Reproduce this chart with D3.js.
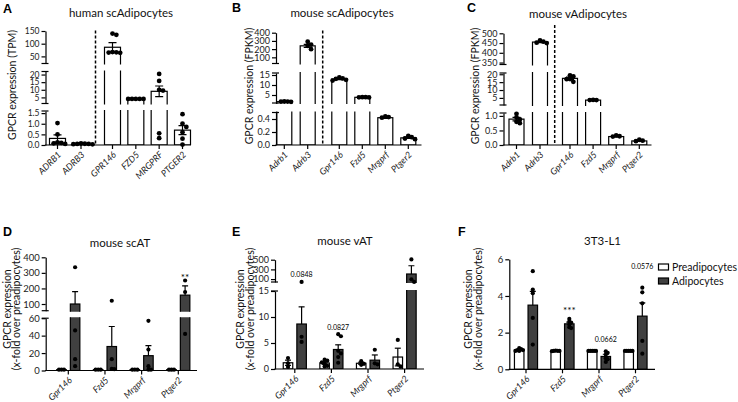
<!DOCTYPE html>
<html>
<head>
<meta charset="utf-8">
<script src="https://cdn.jsdelivr.net/npm/d3@7"></script>
<style>
  body { margin: 0; background: #fff; }
  svg { display: block; }
</style>
</head>
<body>
<div id="wrapper"></div>
<script>

// ---------- data ----------

// A: human scAdipocytes (TPM)
const genesA = ["ADRB1", "ADRB3", "GPR146", "FZD5", "MRGPRF", "PTGER2"];
const meanA = [0.31, 0.05, 86, 4.0, 9.0, 0.7];
const semA = [0.17, 0.01, 18, 0.05, 3.5, 0.21];
const dotsA = [
    [1.03, 0.5, 0.12, 0.1, 0.08, 0.05],
    [0.07, 0.06, 0.05, 0.05, 0.04, 0.03],
    [140, 135, 66, 65, 67, 64],
    [4.0, 4.0, 4.0, 4.0, 4.0],
    [20.4, 15.8, 10, 9.5, 0.55, 0.32],
    [1.45, 1.0, 0.85, 0.6, 0.3, 0.02]
];
const domainsA = [[0, 1.6], [1, 22], [22, 150]];
const ticksA = [[0, 0.5, 1, 1.5], [5, 10, 15, 20], [50, 100, 150]];

// B: mouse scAdipocytes (FPKM)
const genesB = ["Adrb1", "Adrb3", "Gpr146", "Fzd5", "Mrgprf", "Ptger2"];
const meanB = [1.68, 240, 13.0, 3.85, 0.42, 0.11];
const semB = [0.04, 18, 0.3, 0.05, 0.01, 0.01];
const dotsB = [
    [1.6, 1.7, 1.75, 1.65],
    [290, 255, 240, 200],
    [13.8, 13.3, 12.6, 12.2, 13.1],
    [3.8, 3.9, 3.85, 3.9],
    [0.44, 0.42, 0.43],
    [0.14, 0.12, 0.09, 0.1]
];
const domainsB = [[0, 0.5], [1, 16], [25, 400]];
const ticksB = [[0, 0.2, 0.4], [5, 10, 15], [100, 200, 300, 400]];

// C: mouse vAdipocytes (FPKM)
const genesC = ["Adrb1", "Adrb3", "Gpr146", "Fzd5", "Mrgprf", "Ptger2"];
const meanC = [0.89, 455, 17.4, 3.6, 0.29, 0.14];
const semC = [0.06, 3, 0.8, 0.05, 0.01, 0.01];
const dotsC = [
    [1.07, 0.95, 0.88, 0.8, 0.75],
    [463, 457, 450, 452],
    [19.3, 18.6, 17.0, 15.2, 16.9],
    [3.6, 3.7, 3.6],
    [0.3, 0.33, 0.29],
    [0.15, 0.18, 0.13]
];
const domainsC = [[0, 1.1], [0.5, 20.8], [340, 500]];
const ticksC = [[0, 0.5, 1], [5, 10, 15, 20], [350, 400, 450, 500]];

// D: mouse scAT (x-fold over preadipocytes)
const genesD = ["Gpr146", "Fzd5", "Mrgprf", "Ptger2"];
const preMeanD = [1, 1, 1, 1];
const preSemD = [0.05, 0.05, 0.05, 0.05];
const preDotsD = [[1.1, 0.9, 1.0], [1.05, 0.95, 1.0], [1.1, 0.95, 0.95], [1.0, 1.0, 1.0]];
const adiMeanD = [100, 27.5, 17, 157];
const adiSemD = [80, 23, 11.5, 60];
const adiDotsD = [[336, 46, 13, 5], [121, 13, 2, 1.5], [57, 24, 5, 1, 1], [251, 177, 42]];
const domainsD = [[0, 60], [57, 400]];
const ticksD = [[0, 20, 40, 60], [100, 200, 300, 400]];
const annotD = ["", "", "", "**"];

// E: mouse vAT
const genesE = ["Gpr146", "Fzd5", "Mrgprf", "Ptger2"];
const preMeanE = [1.2, 1.15, 1.1, 2.3];
const preSemE = [0.5, 0.25, 0.2, 1.7];
const preDotsE = [[2.1, 1.1, 0.4], [1.8, 1.6, 1.1, 1.3, 0.6, 0.5], [1.5, 0.8, 1.0], [5.6, 0.5, 0.9]];
const adiMeanE = [8.65, 3.75, 1.7, 205];
const adiSemE = [3.3, 0.9, 1.0, 170];
const adiDotsE = [[42, 6.2, 5.2], [6.7, 6.3, 3.5, 3.0, 2.3, 1.2], [3.7, 1.1, 0.9], [505, 95, 42]];
const domainsE = [[0, 15], [40, 500]];
const ticksE = [[0, 5, 10, 15], [100, 300, 500]];
const annotE = ["0.0848", "0.0827", "", ""];

// F: 3T3-L1
const genesF = ["Gpr146", "Fzd5", "Mrgprf", "Ptger2"];
const preMeanF = [1.05, 1.0, 1.0, 1.0];
const preSemF = [0.03, 0.01, 0.01, 0.01];
const preDotsF = [[1.15, 1.1, 1.05, 1.0, 1.0, 1.05], [1.0, 1.02, 0.99, 1.0, 1.01], [1, 1, 1, 1, 1], [1, 1, 1, 1, 1]];
const adiMeanF = [3.5, 2.48, 0.7, 2.9];
const adiSemF = [0.75, 0.09, 0.12, 0.72];
const adiDotsF = [[5.35, 4.35, 4.15, 2.8, 1.35], [2.75, 2.6, 2.55, 2.3, 2.25, 2.45], [0.98, 0.9, 0.8, 0.55, 0.4, 0.6], [4.45, 4.2, 3.6, 1.55, 0.85]];
const domainsF = [[0, 6]];
const ticksF = [[0, 2, 4, 6]];
const annotF = ["", "***", "0.0662", "0.0576"];

const legendLabels = ["Preadipocytes", "Adipocytes"];

// ---------- drawing ----------

const FONT = "Lato, 'Noto Sans', sans-serif";
const DARK = "#404040";

const svg = d3.select("#wrapper")
    .append("svg")
        .attr("width", 738)
        .attr("height", 402)
        .style("background", "#fff");

const defs = svg.append("defs");

// spread dots sideways when they overlap
function swarm(ys, r, k) {
    const order = d3.range(ys.length).sort((a, b) => ys[a] - ys[b]);
    const placed = [];
    const off = new Array(ys.length).fill(0);
    const step = r * k;
    order.forEach(j => {
        for (let t = 0; t < 30; t++) {
            const o = t === 0 ? 0 : (t % 2 ? 1 : -1) * Math.ceil(t / 2) * step;
            if (placed.every(p => Math.hypot(p.x - o, p.y - ys[j]) >= step * 0.98)) {
                off[j] = o;
                placed.push({ x: o, y: ys[j] });
                break;
            }
        }
    });
    return off;
}

function drawPanel(cfg) {
    const g = svg.append("g");

    const segs = cfg.domains.map((dom, k) => ({
        k,
        domain: dom,
        range: cfg.ranges[k],
        ticks: cfg.ticks[k],
        scale: d3.scaleLinear().domain(dom).range(cfg.ranges[k])
    }));
    const base = segs[0].range[0];

    // clip paths, one per axis segment
    segs.forEach(s => {
        s.clipId = `clip-${cfg.id}-${s.k}`;
        defs.append("clipPath").attr("id", s.clipId)
            .append("rect")
                .attr("x", cfg.axisX)
                .attr("y", s.range[1] - 1)
                .attr("width", cfg.axisEnd - cfg.axisX + 20)
                .attr("height", s.range[0] - s.range[1] + (s.k === 0 ? 1 : 2));
    });

    const segFor = v => {
        const hit = segs.find(s => v >= s.domain[0] && v <= s.domain[1]);
        if (hit) return hit;
        return v > segs[segs.length - 1].domain[1] ? segs[segs.length - 1] :
            segs.reduce((a, s) => (s.domain[1] < v ? s : a), segs[0]);
    };

    // dashed divider
    if (cfg.dash) {
        g.append("line")
            .attr("x1", cfg.dash.x).attr("x2", cfg.dash.x)
            .attr("y1", cfg.dash.top).attr("y2", base)
            .attr("stroke", "#000")
            .attr("stroke-width", 1.5)
            .attr("stroke-dasharray", "3,2");
    }

    // bars and error bars, clipped to each segment
    segs.forEach(s => {
        const sg = g.append("g").attr("clip-path", `url(#${s.clipId})`);
        cfg.series.forEach(ser => {
            ser.mean.forEach((v, i) => {
                const own = segFor(v);
                if (s.k > own.k) return;
                const cx = cfg.xPos(i) + ser.offset;
                const yT = s.k < own.k ? s.range[1] - 8 : s.scale(v);
                const yB = s.k === 0 ? s.scale(0) : s.range[0] + 8;
                sg.append("rect")
                    .attr("x", cx - ser.width / 2)
                    .attr("y", yT)
                    .attr("width", ser.width)
                    .attr("height", Math.max(0, yB - yT))
                    .attr("fill", ser.fill)
                    .attr("stroke", "#000")
                    .attr("stroke-width", 1.2);

                if (own !== s) return;
                const e = ser.sem[i];
                const hi = s.scale(v + e);
                const lo = ser.down ? s.scale(Math.max(0, v - e)) : s.scale(v);
                sg.append("line")
                    .attr("x1", cx).attr("x2", cx)
                    .attr("y1", lo).attr("y2", hi)
                    .attr("stroke", "#000").attr("stroke-width", 1.2);
                [hi].concat(ser.down ? [lo] : []).forEach(yy => {
                    sg.append("line")
                        .attr("x1", cx - cfg.capW / 2).attr("x2", cx + cfg.capW / 2)
                        .attr("y1", yy).attr("y2", yy)
                        .attr("stroke", "#000").attr("stroke-width", 1.2);
                });
            });
        });
    });

    // dots
    cfg.series.forEach(ser => {
        ser.dots.forEach((vals, i) => {
            const cx = cfg.xPos(i) + ser.offset;
            const ys = vals.map(v => {
                const s = segFor(v);
                return s.scale(Math.max(s.domain[0], Math.min(s.domain[1] * 1.02, v)));
            });
            const offs = swarm(ys, cfg.dotR, cfg.spread);
            ys.forEach((y, j) => {
                g.append("circle")
                    .attr("cx", cx + offs[j])
                    .attr("cy", y)
                    .attr("r", cfg.dotR)
                    .attr("fill", "#000");
            });
        });
    });

    // annotations above adipocyte bars
    if (cfg.annot) {
        const ser = cfg.series[cfg.series.length - 1];
        cfg.annot.forEach((txt, i) => {
            if (!txt) return;
            const vals = ser.dots[i].concat([ser.mean[i] + ser.sem[i]]);
            const yTop = d3.min(vals, v => {
                const s = segFor(v);
                return s.scale(Math.min(v, s.domain[1] * 1.02));
            });
            const star = txt.startsWith("*");
            g.append("text")
                .attr("x", cfg.xPos(i) + ser.offset)
                .attr("y", yTop - cfg.annotOff[i])
                .attr("text-anchor", "middle")
                .attr("font-family", FONT)
                .attr("font-size", star ? 10 : 7)
                .attr("fill", "#000")
                .text(txt);
        });
    }

    // y axis segments
    segs.forEach(s => {
        const axis = d3.axisLeft(s.scale)
            .tickValues(s.ticks)
            .tickSize(4)
            .tickSizeOuter(0)
            .tickPadding(2)
            .tickFormat(cfg.fmt[s.k]);
        const ag = g.append("g")
            .attr("transform", `translate(${cfg.axisX},0)`)
            .call(axis);
        ag.select(".domain").attr("stroke-width", 1.2);
        ag.selectAll(".tick line").attr("stroke-width", 1.2);
        ag.selectAll(".tick text")
            .attr("font-family", FONT)
            .attr("font-size", cfg.tickSize)
            .attr("fill", "#222");

        // break caps
        const ends = [];
        if (s.k > 0) ends.push(s.range[0]);
        if (s.k < segs.length - 1) ends.push(s.range[1]);
        ends.forEach(y => {
            g.append("line")
                .attr("x1", cfg.axisX - 4).attr("x2", cfg.axisX + 3)
                .attr("y1", y).attr("y2", y)
                .attr("stroke", "#000").attr("stroke-width", 1.2);
        });
    });

    // x axis
    g.append("line")
        .attr("x1", cfg.axisX - 0.6).attr("x2", cfg.axisEnd)
        .attr("y1", base).attr("y2", base)
        .attr("stroke", "#000").attr("stroke-width", 1.2);

    cfg.labels.forEach((lab, i) => {
        const x = cfg.xPos(i);
        g.append("line")
            .attr("x1", x).attr("x2", x)
            .attr("y1", base).attr("y2", base + 4)
            .attr("stroke", "#000").attr("stroke-width", 1.2);
        g.append("text")
            .attr("transform", `translate(${x + 2},${base + 8}) rotate(-45)`)
            .attr("text-anchor", "end")
            .attr("dy", "0.35em")
            .attr("font-family", FONT)
            .attr("font-style", "italic")
            .attr("font-size", cfg.labelSize)
            .attr("fill", "#222")
            .text(lab);
    });

    // y title
    cfg.ylab.lines.forEach((line, j) => {
        g.append("text")
            .attr("transform", `translate(${cfg.ylab.xs[j]},${cfg.ylab.y}) rotate(-90)`)
            .attr("text-anchor", "middle")
            .attr("dominant-baseline", "central")
            .attr("font-family", FONT)
            .attr("font-size", 10.5)
            .attr("fill", "#111")
            .text(line);
    });

    // title and panel letter
    g.append("text")
        .attr("x", cfg.title.x).attr("y", cfg.title.y)
        .attr("text-anchor", "middle")
        .attr("font-family", FONT)
        .attr("font-size", 11.5)
        .attr("fill", "#111")
        .text(cfg.title.text);

    g.append("text")
        .attr("x", cfg.letter.x).attr("y", cfg.letter.y)
        .attr("font-family", "'Liberation Sans', Arial, sans-serif")
        .attr("font-weight", "bold")
        .attr("font-size", 12.5)
        .attr("fill", "#000")
        .text(cfg.letter.text);
}

// top row helpers: two groups of categories separated by a dashed line
function splitPos(left, right) {
    const l = d3.scalePoint().domain([0, 1]).range(left);
    const r = d3.scalePoint().domain([2, 3, 4, 5]).range(right);
    return i => (i < 2 ? l(i) : r(i));
}

const fmt1 = d3.format(".1f");
const fmt0 = d3.format("d");

drawPanel({
    id: "A",
    axisX: 45.5, axisEnd: 191,
    domains: domainsA, ticks: ticksA,
    ranges: [[145, 111], [103.5, 71.5], [63.5, 31]],
    fmt: [fmt1, fmt0, fmt0], tickSize: 8.5,
    xPos: splitPos([57.5, 81], [112.5, 182.5]),
    series: [{ offset: 0, width: 16, fill: "#fff", mean: meanA, sem: semA, dots: dotsA, down: true }],
    labels: genesA, labelSize: 9,
    dash: { x: 95.5, top: 30.5 },
    dotR: 2.4, spread: 1.6, capW: 8,
    ylab: { lines: ["GPCR expression (TPM)"], xs: [12], y: 85 },
    title: { text: "human scAdipocytes", x: 121, y: 16.5 },
    letter: { text: "A", x: 3, y: 13 }
});

drawPanel({
    id: "B",
    axisX: 276, axisEnd: 421.5,
    domains: domainsB, ticks: ticksB,
    ranges: [[145, 112.5], [103, 73], [63.5, 32.7]],
    fmt: [fmt1, fmt0, fmt0], tickSize: 9,
    xPos: splitPos([284.3, 307.7], [339.3, 408.3]),
    series: [{ offset: 0, width: 15, fill: "#fff", mean: meanB, sem: semB, dots: dotsB, down: true }],
    labels: genesB, labelSize: 9,
    dash: { x: 322.7, top: 30.5 },
    dotR: 2.4, spread: 1.4, capW: 8,
    ylab: { lines: ["GPCR expression (FPKM)"], xs: [249], y: 86 },
    title: { text: "mouse scAdipocytes", x: 342, y: 17 },
    letter: { text: "B", x: 232, y: 12 }
});

drawPanel({
    id: "C",
    axisX: 503.5, axisEnd: 651.5,
    domains: domainsC, ticks: ticksC,
    ranges: [[145, 113], [105, 73], [64.5, 33.3]],
    fmt: [fmt1, fmt0, fmt0], tickSize: 9,
    xPos: splitPos([516.5, 540], [570, 639.3]),
    series: [{ offset: 0, width: 15, fill: "#fff", mean: meanC, sem: semC, dots: dotsC, down: true }],
    labels: genesC, labelSize: 9,
    dash: { x: 554.7, top: 25 },
    dotR: 2.4, spread: 1.4, capW: 8,
    ylab: { lines: ["GPCR expression (FPKM)"], xs: [475], y: 86 },
    title: { text: "mouse vAdipocytes", x: 578, y: 18 },
    letter: { text: "C", x: 467, y: 12 }
});

const groupPos = range => {
    const s = d3.scalePoint().domain([0, 1, 2, 3]).range(range);
    return i => s(i);
};

drawPanel({
    id: "D",
    axisX: 45.7, axisEnd: 197,
    domains: domainsD, ticks: ticksD,
    ranges: [[370.5, 318.2], [310.7, 257.3]],
    fmt: [fmt0, fmt0], tickSize: 9.5,
    xPos: groupPos([68.3, 178.3]),
    series: [
        { offset: -6.8, width: 9.5, fill: "#fff", mean: preMeanD, sem: preSemD, dots: preDotsD, down: true },
        { offset: 6.8, width: 9.5, fill: DARK, mean: adiMeanD, sem: adiSemD, dots: adiDotsD, down: false }
    ],
    annot: annotD, annotOff: [0, 0, 0, -1],
    labels: genesD, labelSize: 9,
    dotR: 2.1, spread: 1.2, capW: 6,
    ylab: { lines: ["GPCR expression", "(x-fold over preadipocytes)"], xs: [7, 16], y: 309 },
    title: { text: "mouse scAT", x: 120, y: 246.5 },
    letter: { text: "D", x: 3, y: 235.5 }
});

drawPanel({
    id: "E",
    axisX: 275, axisEnd: 424,
    domains: domainsE, ticks: ticksE,
    ranges: [[369, 291], [282, 259.7]],
    fmt: [fmt0, fmt0], tickSize: 9,
    xPos: groupPos([294.8, 404.6]),
    series: [
        { offset: -6.8, width: 9.5, fill: "#fff", mean: preMeanE, sem: preSemE, dots: preDotsE, down: true },
        { offset: 6.8, width: 9.5, fill: DARK, mean: adiMeanE, sem: adiSemE, dots: adiDotsE, down: false }
    ],
    annot: annotE, annotOff: [4.5, 4.5, 0, 0],
    labels: genesE, labelSize: 9,
    dotR: 2.1, spread: 1.3, capW: 6,
    ylab: { lines: ["GPCR expression", "(x-fold over preadipocytes)"], xs: [240, 250], y: 309 },
    title: { text: "mouse vAT", x: 345, y: 244.5 },
    letter: { text: "E", x: 232, y: 235.5 }
});

drawPanel({
    id: "F",
    axisX: 509.3, axisEnd: 655,
    domains: domainsF, ticks: ticksF,
    ranges: [[369.3, 259.3]],
    fmt: [fmt0], tickSize: 9.5,
    xPos: groupPos([526, 635.5]),
    series: [
        { offset: -6.8, width: 9.5, fill: "#fff", mean: preMeanF, sem: preSemF, dots: preDotsF, down: true },
        { offset: 6.8, width: 9.5, fill: DARK, mean: adiMeanF, sem: adiSemF, dots: adiDotsF, down: false }
    ],
    annot: annotF, annotOff: [0, 5, 9, 19],
    labels: genesF, labelSize: 9,
    dotR: 2.1, spread: 0.9, capW: 6,
    ylab: { lines: ["GPCR expression", "(x-fold over preadipocytes)"], xs: [468, 478], y: 309 },
    title: { text: "3T3-L1", x: 602.5, y: 244.5 },
    letter: { text: "F", x: 458, y: 235.5 }
});

// legend for panel F
const legend = svg.append("g");
legendLabels.forEach((lab, i) => {
    legend.append("rect")
        .attr("x", 658.5).attr("y", 264 + i * 14)
        .attr("width", 10).attr("height", 6)
        .attr("fill", i === 0 ? "#fff" : DARK)
        .attr("stroke", "#000").attr("stroke-width", 1.2);
    legend.append("text")
        .attr("x", 672).attr("y", 270.5 + i * 14)
        .attr("font-family", FONT)
        .attr("font-size", 10.5)
        .attr("fill", "#111")
        .text(lab);
});

</script>
</body>
</html>
